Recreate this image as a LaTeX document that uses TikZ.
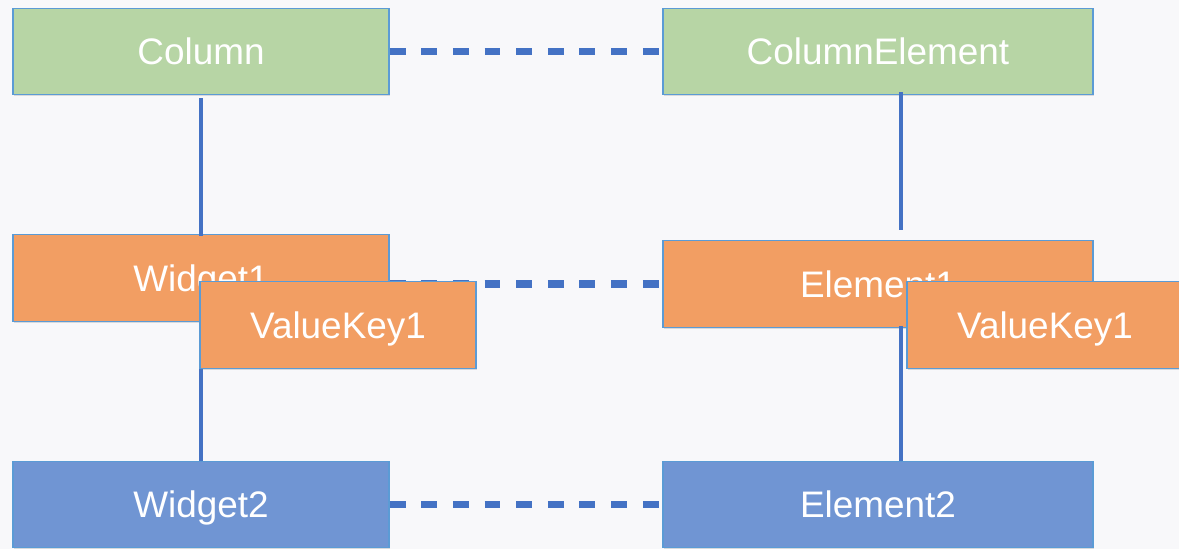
\documentclass[tikz,border=0pt]{standalone}
\usepackage{fontspec}
\setmainfont{Liberation Sans}
\usetikzlibrary{shadows}

\definecolor{bgcol}{HTML}{F8F8FA}
\definecolor{greencol}{HTML}{B7D5A5}
\definecolor{orangecol}{HTML}{F29E63}
\definecolor{bluecol}{HTML}{7095D3}
\definecolor{edgecol}{HTML}{5B9BD5}
\definecolor{linkcol}{HTML}{4472C4}

\begin{document}
\begin{tikzpicture}[
    box/.style={draw=edgecol, line width=0.8pt, text=white, minimum height=1.73cm,
        font=\fontsize{21}{25}\selectfont, text height=15.1pt, text depth=0pt,
        drop shadow={opacity=0.25, shadow xshift=0.8pt, shadow yshift=-0.8pt}},
    narrowbox/.style={box, minimum width=7.52cm},
    widebox/.style={box, minimum width=8.6cm},
    keybox/.style={box, minimum width=5.52cm, fill=orangecol},
    solidlink/.style={linkcol, line width=2.8pt},
    dashlink/.style={linkcol, line width=4pt, dash pattern=on 9pt off 9pt}
]
    % Background and size
    \fill[bgcol] (0,0) rectangle (23.58,-10.98);
    \useasboundingbox (0,0) rectangle (23.58,-10.98);

    % Top row
    \node[narrowbox, fill=greencol] (col) at (4.02,-1.03) {Column};
    \node[widebox, fill=greencol] (colel) at (17.56,-1.03) {ColumnElement};

    % Middle row
    \node[narrowbox, fill=orangecol] (w1) at (4.02,-5.56) {Widget1};
    \node[widebox, fill=orangecol] (el1) at (17.56,-5.68) {Element1};

    % Bottom row
    \node[narrowbox, fill=bluecol] (w2) at (4.02,-10.09) {Widget2};
    \node[widebox, fill=bluecol] (el2) at (17.56,-10.09) {Element2};

    % Links on the widget side
    \draw[solidlink] ([yshift=-0.06cm]col.south) -- ([yshift=-0.04cm]w1.north);
    \draw[solidlink] (w1.south) -- (w2.north);

    % Links on the element side
    \draw[solidlink] ([xshift=0.46cm, yshift=0.06cm]colel.south) -- ([xshift=0.46cm, yshift=0.2cm]el1.north);
    \draw[solidlink] ([xshift=0.46cm, yshift=0.04cm]el1.south) -- ([xshift=0.46cm]el2.north);

    % Dashed pairs
    \draw[dashlink] (col.east) -- (colel.west);
    \draw[dashlink] (w1.east |- el1.west) -- (el1.west);
    \draw[dashlink] (w2.east) -- (el2.west);

    % Value keys on top
    \node[keybox] (vkw) at (6.76,-6.5) {ValueKey1};
    \node[keybox] (vke) at (20.9,-6.5) {ValueKey1};
\end{tikzpicture}
\end{document}
